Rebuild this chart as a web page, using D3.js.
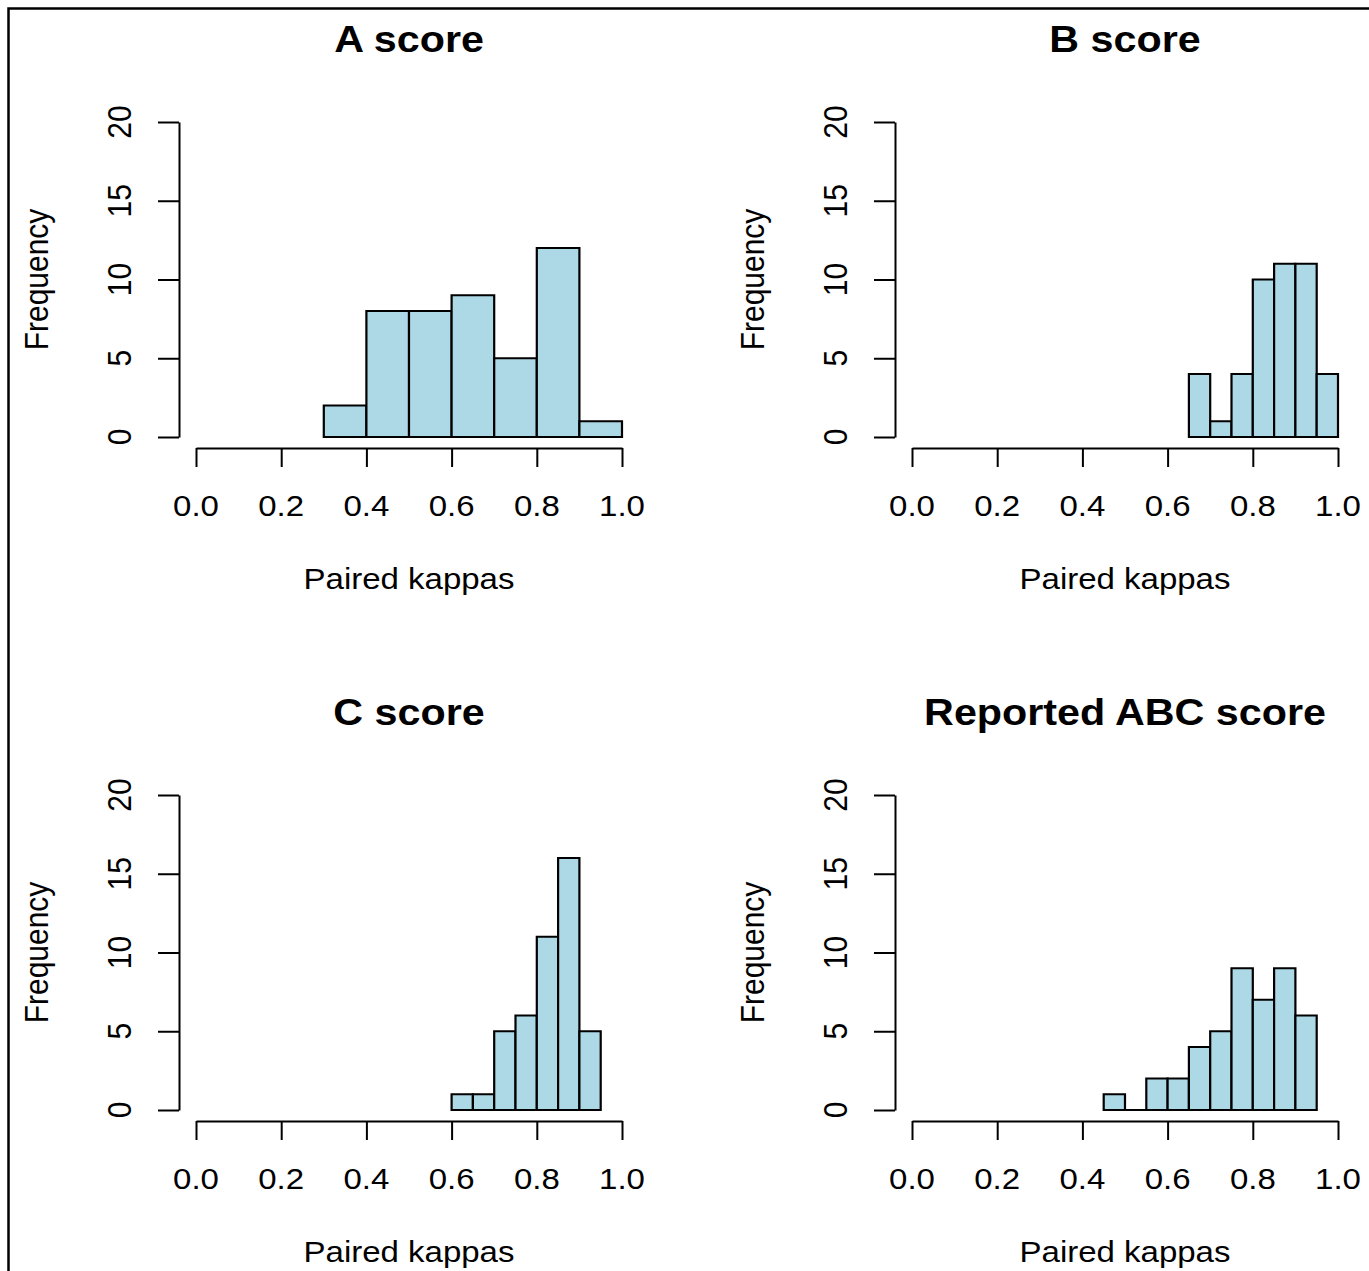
<!DOCTYPE html>
<html>
<head>
<meta charset="utf-8">
<script src="https://cdn.jsdelivr.net/npm/d3@7"></script>
<style>
  body { margin: 0; background: #fff; }
  text { font-family: "Liberation Sans", Arial, sans-serif; fill: #000; }
</style>
</head>
<body>
<svg id="chart" width="1369" height="1271"></svg>
<script>
// histogram data: bin breaks and counts per panel
const titles = ["A score", "B score", "C score", "Reported ABC score"]
const aBreaks = [0.3, 0.4, 0.5, 0.6, 0.7, 0.8, 0.9, 1.0]
const aCounts = [2, 8, 8, 9, 5, 12, 1]
const bBreaks = [0.65, 0.7, 0.75, 0.8, 0.85, 0.9, 0.95, 1.0]
const bCounts = [4, 1, 4, 10, 11, 11, 4]
const cBreaks = [0.6, 0.65, 0.7, 0.75, 0.8, 0.85, 0.9, 0.95]
const cCounts = [1, 1, 5, 6, 11, 16, 5]
const dBreaks = [0.45, 0.5, 0.55, 0.6, 0.65, 0.7, 0.75, 0.8, 0.85, 0.9, 0.95]
const dCounts = [1, 0, 2, 2, 4, 5, 9, 7, 9, 6]
const xTicks = [0, 0.2, 0.4, 0.6, 0.8, 1.0]
const yTicks = [0, 5, 10, 15, 20]
const xLabel = "Paired kappas"
const yLabel = "Frequency"

const breaksList = [aBreaks, bBreaks, cBreaks, dBreaks]
const countsList = [aCounts, bCounts, cCounts, dCounts]

const fillColour = "#ADD8E6"
const fontSize = 30
const titleSize = 37.5
const stretch = 1.1   // the picture's text is a bit wider than tall
const offsets = [[0, 0], [716, 0], [0, 673], [716, 673]]

const svg = d3.select("#chart")

// frame round the figure (only top and left edges are visible)
svg.append("path")
  .attr("d", "M8.5,1271V8.5H1369")
  .attr("fill", "none")
  .attr("stroke", "#000")
  .attr("stroke-width", 2.5)

const x = d3.scaleLinear().domain([0, 1]).range([196, 622])
const y = d3.scaleLinear().domain([0, 20]).range([437, 122])

titles.forEach((title, i) => {
  const g = svg.append("g")
    .attr("transform", `translate(${offsets[i][0]},${offsets[i][1]})`)

  const breaks = breaksList[i]
  const bins = countsList[i].map((c, j) => ({x0: breaks[j], x1: breaks[j + 1], n: c}))

  // paths instead of rects so that empty bins still show their base line
  g.selectAll("path.bar")
    .data(bins)
    .join("path")
    .attr("class", "bar")
    .attr("d", d => `M${x(d.x0)},${y(0)}V${y(d.n)}H${x(d.x1)}V${y(0)}Z`)
    .attr("fill", fillColour)
    .attr("stroke", "#000")
    .attr("stroke-width", 2.2)
    .attr("stroke-linejoin", "miter")

  // y axis
  const yAxis = g.append("g")
    .attr("transform", "translate(179,0)")
    .call(d3.axisLeft(y).tickValues(yTicks).tickSize(21).tickSizeOuter(0).tickFormat(""))
  yAxis.selectAll("path, line").attr("stroke", "#000").attr("stroke-width", 2)

  g.selectAll("text.ytick")
    .data(yTicks)
    .join("text")
    .attr("class", "ytick")
    .attr("text-anchor", "middle")
    .attr("transform", d => `translate(131,${y(d)}) scale(${stretch},1) rotate(-90)`)
    .style("font-size", fontSize + "px")
    .text(d => d)

  // x axis
  const xAxis = g.append("g")
    .attr("transform", "translate(0,448)")
    .call(d3.axisBottom(x).tickValues(xTicks).tickSize(19).tickSizeOuter(0).tickFormat(""))
  xAxis.selectAll("path, line").attr("stroke", "#000").attr("stroke-width", 2)

  g.selectAll("text.xtick")
    .data(xTicks)
    .join("text")
    .attr("class", "xtick")
    .attr("text-anchor", "middle")
    .attr("transform", d => `translate(${x(d)},516) scale(${stretch},1)`)
    .style("font-size", fontSize + "px")
    .text(d3.format(".1f"))

  // labels
  g.append("text")
    .attr("text-anchor", "middle")
    .attr("transform", `translate(${(x(0) + x(1)) / 2},589) scale(${stretch},1)`)
    .style("font-size", fontSize + "px")
    .text(xLabel)

  g.append("text")
    .attr("text-anchor", "middle")
    .attr("transform", `translate(48,${(y(0) + y(20)) / 2}) scale(${stretch},1) rotate(-90)`)
    .style("font-size", fontSize + "px")
    .text(yLabel)

  g.append("text")
    .attr("text-anchor", "middle")
    .attr("transform", `translate(${(x(0) + x(1)) / 2},52) scale(${stretch},1)`)
    .style("font-size", titleSize + "px")
    .style("font-weight", "bold")
    .text(title)
})
</script>
</body>
</html>
